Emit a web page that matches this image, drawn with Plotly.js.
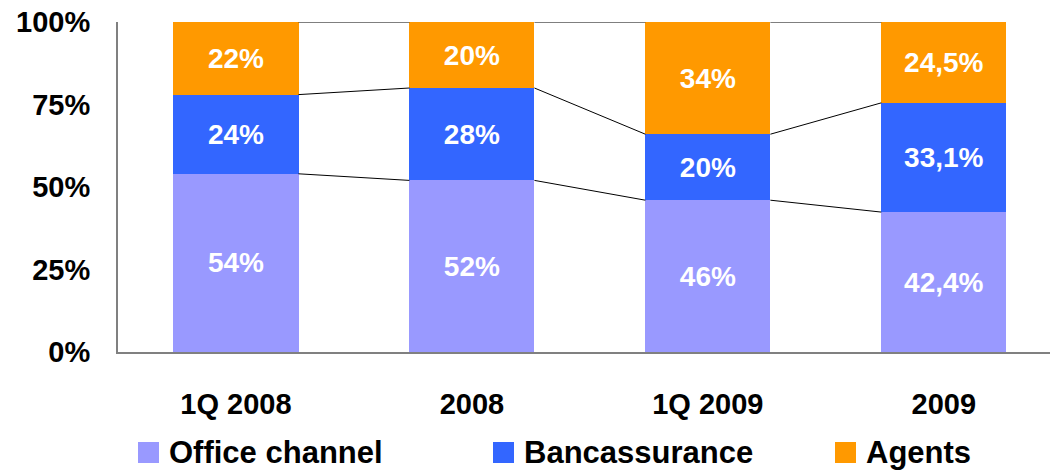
<!DOCTYPE html>
<html>
<head>
<meta charset="utf-8">
<script src="https://cdn.plot.ly/plotly-3.0.1.min.js"></script>
<style>html,body{margin:0;padding:0;background:#fff;}#chart{width:1050px;height:473px;}</style>
</head>
<body>
<div id="chart"></div>
<script>
const categories = ["1Q 2008", "2008", "1Q 2009", "2009"];
const seriesNames = ["Office channel", "Bancassurance", "Agents"];
const officeChannel = [54, 52, 46, 42.4];
const bancassurance = [24, 28, 20, 33.1];
const agents = [22, 20, 34, 24.5];
const yTickVals = [0, 25, 50, 75, 100];
const yTickText = ["0%", "25%", "50%", "75%", "100%"];

const FONT = "Liberation Sans, Arial, sans-serif";
const COLORS = ['#9999FF', '#3366FF', '#FF9900'];
const BAR_W = 0.53;
const xs = categories.map((c, i) => i);
const fmt = v => String(v).replace('.', ',') + '%';

function barTrace(name, vals, color) {
  return {
    type: 'bar', name: name, x: xs, y: vals, width: BAR_W,
    marker: {color: color, line: {width: 0}},
    text: vals.map(fmt), textposition: 'inside', insidetextanchor: 'middle',
    textfont: {family: FONT, size: 28, color: '#ffffff', weight: 'bold'},
    hoverinfo: 'skip', constraintext: 'none', showlegend: false
  };
}

const seriesVals = [officeChannel, bancassurance, agents];
const traces = seriesVals.map((v, k) => barTrace(seriesNames[k], v, COLORS[k]));

// series connector lines
const levels = [
  officeChannel,
  officeChannel.map((v, i) => v + bancassurance[i]),
  officeChannel.map((v, i) => v + bancassurance[i] + agents[i])
];
levels.forEach(lv => {
  const lx = [], ly = [];
  for (let i = 0; i < xs.length - 1; i++) {
    lx.push(xs[i] + BAR_W / 2, xs[i + 1] - BAR_W / 2, null);
    ly.push(lv[i], lv[i + 1], null);
  }
  traces.push({type: 'scatter', mode: 'lines', x: lx, y: ly, showlegend: false,
    line: {color: '#000000', width: 1}, hoverinfo: 'skip', cliponaxis: false});
});

// custom legend (pixel positions converted to paper coords)
const ML = 118, MT = 22, PW = 932, PH = 330;
const px2x = p => (p - ML) / PW;
const py2y = p => (MT + PH - p) / PH;
const legendSquareX = [138, 493, 835];
const SQ = 21, LEG_Y = 452.5;
const shapes = [], annotations = [];
seriesNames.forEach((n, k) => {
  const x0 = legendSquareX[k];
  shapes.push({type: 'rect', xref: 'paper', yref: 'paper',
    x0: px2x(x0), x1: px2x(x0 + SQ), y0: py2y(LEG_Y + SQ / 2), y1: py2y(LEG_Y - SQ / 2),
    fillcolor: COLORS[k], line: {width: 0}});
  annotations.push({xref: 'paper', yref: 'paper', x: px2x(x0 + SQ + 8), y: py2y(LEG_Y),
    xanchor: 'left', yanchor: 'middle', showarrow: false, text: n,
    font: {family: FONT, size: 31, color: '#000000', weight: 'bold'}});
});

const layout = {
  width: 1050, height: 473,
  margin: {l: ML, r: 0, t: MT, b: 473 - MT - PH},
  barmode: 'stack',
  paper_bgcolor: '#ffffff', plot_bgcolor: '#ffffff',
  font: {family: FONT, size: 28, color: '#000000', weight: 'bold'},
  xaxis: {
    range: [-0.5, 3.45], tickvals: xs, ticktext: categories,
    showgrid: false, zeroline: false, showline: true, linecolor: '#808080', linewidth: 2,
    ticks: 'outside', ticklen: 25, tickcolor: 'rgba(0,0,0,0)',
    tickfont: {family: FONT, size: 29, color: '#000000', weight: 'bold'}
  },
  yaxis: {
    range: [0, 100], tickvals: yTickVals, ticktext: yTickText,
    showgrid: false, zeroline: false, showline: true, linecolor: '#808080', linewidth: 2,
    ticks: 'outside', ticklen: 20, tickcolor: 'rgba(0,0,0,0)',
    tickfont: {family: FONT, size: 29, color: '#000000', weight: 'bold'}
  },
  showlegend: false,
  shapes: shapes,
  annotations: annotations
};

Plotly.newPlot('chart', traces, layout, {displayModeBar: false, staticPlot: true});
</script>
</body>
</html>
